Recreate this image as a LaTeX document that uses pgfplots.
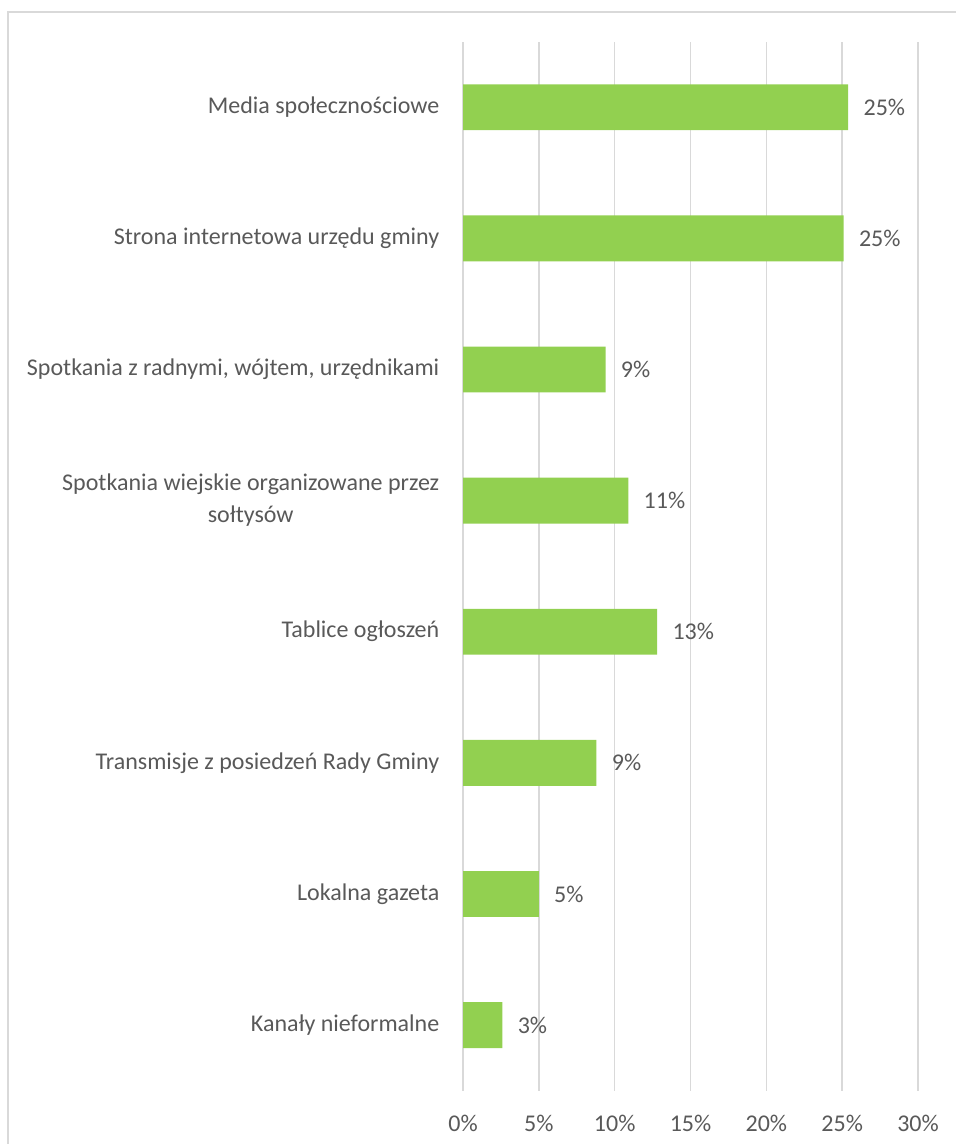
\documentclass[border=0pt]{standalone}
\usepackage{fontspec}
\setmainfont{Carlito}
\usepackage{pgfplots}
\pgfplotsset{compat=1.18}
\definecolor{bargreen}{HTML}{92D050}
\definecolor{txtgray}{HTML}{595959}
\definecolor{gridgray}{HTML}{D9D9D9}
\begin{document}
\begin{tikzpicture}
\path[use as bounding box] (0pt,0pt) rectangle (717pt,858pt);
\draw[gridgray,line width=1.2pt] (6pt,0pt) -- (6pt,849pt) -- (717pt,849pt);
\begin{axis}[
    at={(347.25pt,40pt)}, anchor=south west,
    scale only axis,
    width=341.25pt, height=786.75pt,
    xbar, bar width=0.35,
    xmin=0, xmax=30,
    ymin=-0.5, ymax=7.5,
    xtick={0,5,...,30},
    xticklabel={\pgfmathprintnumber{\tick}\%},
    ytick={0,...,7},
    yticklabels={Kanały nieformalne, Lokalna gazeta, Transmisje z posiedzeń Rady Gminy, Tablice ogłoszeń, {Spotkania wiejskie organizowane przez\\sołtysów}, {Spotkania z radnymi, wójtem, urzędnikami}, Strona internetowa urzędu gminy, Media społecznościowe},
    yticklabel style={align=center, xshift=-10pt, font=\fontsize{18}{24}\selectfont},
    xticklabel style={yshift=-15pt},
    tick style={draw=none},
    axis line style={draw=none},
    xmajorgrids, grid style={gridgray, line width=1.1pt},
    ticklabel style={font=\fontsize{18}{24}\selectfont, text=txtgray},
    /pgf/number format/assume math mode=true,
    nodes near coords={\pgfmathprintnumber[fixed,precision=0]{\pgfplotspointmeta}\%},
    nodes near coords style={font=\fontsize{18}{21.5}\selectfont, text=txtgray, xshift=8pt},
    point meta=x,
]
\addplot[fill=bargreen, draw=none] coordinates {
(2.6,0) (5.0,1) (8.8,2) (12.8,3) (10.9,4) (9.4,5) (25.1,6) (25.4,7)
};
\end{axis}
\end{tikzpicture}
\end{document}
